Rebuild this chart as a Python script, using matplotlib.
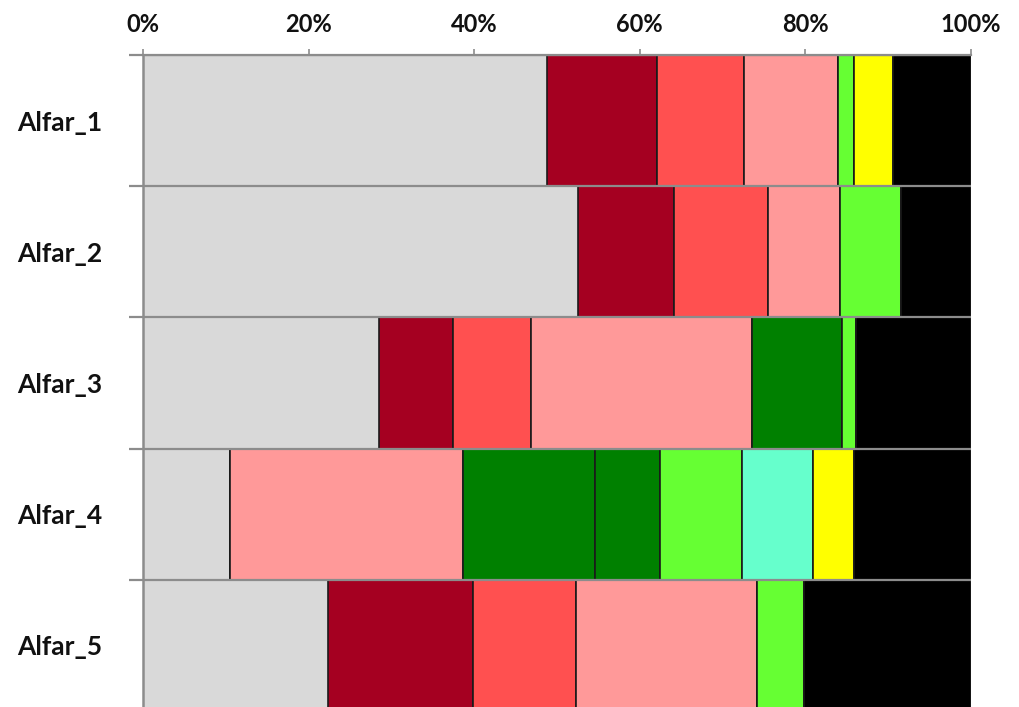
import matplotlib
matplotlib.use("Agg")
import matplotlib.pyplot as plt
import numpy as np

# Samples (rows) and the share of each class per sample, in percent
samples = ["Alfar_1", "Alfar_2", "Alfar_3", "Alfar_4", "Alfar_5"]

grey       = [48.8, 52.5, 28.5, 10.5, 22.3]
dark_red   = [13.3, 11.6,  9.0,  0.0, 17.6]
red        = [10.5, 11.4,  9.4,  0.0, 12.4]
pink       = [11.3,  8.7, 26.7, 28.1, 21.9]
dark_green = [ 0.0,  0.0, 10.8, 16.0,  0.0]
green_2    = [ 0.0,  0.0,  0.0,  7.8,  0.0]
lime       = [ 2.0,  7.4,  1.7,  9.9,  5.6]
aqua       = [ 0.0,  0.0,  0.0,  8.6,  0.0]
yellow     = [ 4.7,  0.0,  0.0,  5.0,  0.0]
black      = [ 9.4,  8.4, 13.9, 14.1, 20.2]

series = [grey, dark_red, red, pink, dark_green, green_2, lime, aqua, yellow, black]
colors = ["#D9D9D9", "#A50021", "#FF5050", "#FF9999", "#008000", "#008000",
          "#66FF33", "#66FFCC", "#FFFF00", "#000000"]
xticks = [0, 20, 40, 60, 80, 100]
xticklabels = ["0%", "20%", "40%", "60%", "80%", "100%"]

fig = plt.figure(figsize=(10.19, 7.07), dpi=100)
ax = fig.add_axes([0.1403, -0.0057, 0.8126, 0.9279])

y = np.arange(len(samples))
left = np.zeros(len(samples))
for vals, col in zip(series, colors):
    vals = np.array(vals, dtype=float)
    edge = "#E8E8E8" if col == "#D9D9D9" else "#1A1A1A"
    ax.barh(y, vals, left=left, height=1.0, color=col, edgecolor=edge,
            linewidth=1.2, zorder=2)
    left += vals

# grey separators between rows
for b in np.arange(-0.5, len(samples) + 0.5, 1.0):
    ax.axhline(b, xmin=0, xmax=1, color="#8C8C8C", linewidth=1.6, zorder=3)

ax.set_xlim(0, 100)
ax.set_ylim(len(samples) - 0.5, -0.5)

ax.xaxis.tick_top()
ax.set_xticks(xticks)
ax.set_xticklabels(xticklabels, fontsize=17, fontweight="bold",
                   family=["Lato", "DejaVu Sans"], color="#111111")
ax.tick_params(axis="x", which="major", direction="out", length=4,
               color="#8C8C8C", width=1.2, pad=10)

ax.set_yticks(y)
ax.set_yticklabels(samples, fontsize=19, fontweight="bold",
                   family=["Lato", "DejaVu Sans"], color="#111111")
ax.tick_params(axis="y", which="major", length=0, pad=29)
ax.set_yticks(np.arange(-0.5, len(samples) + 0.5, 1.0), minor=True)
ax.tick_params(axis="y", which="minor", direction="out", length=10,
               color="#8C8C8C", width=1.6)

for side in ["right", "bottom"]:
    ax.spines[side].set_visible(False)
ax.spines["left"].set_color("#8C8C8C")
ax.spines["left"].set_linewidth(1.8)
ax.spines["left"].set_zorder(4)
ax.spines["top"].set_color("#8C8C8C")
ax.spines["top"].set_linewidth(1.6)

fig.savefig("out.png", dpi=100)
